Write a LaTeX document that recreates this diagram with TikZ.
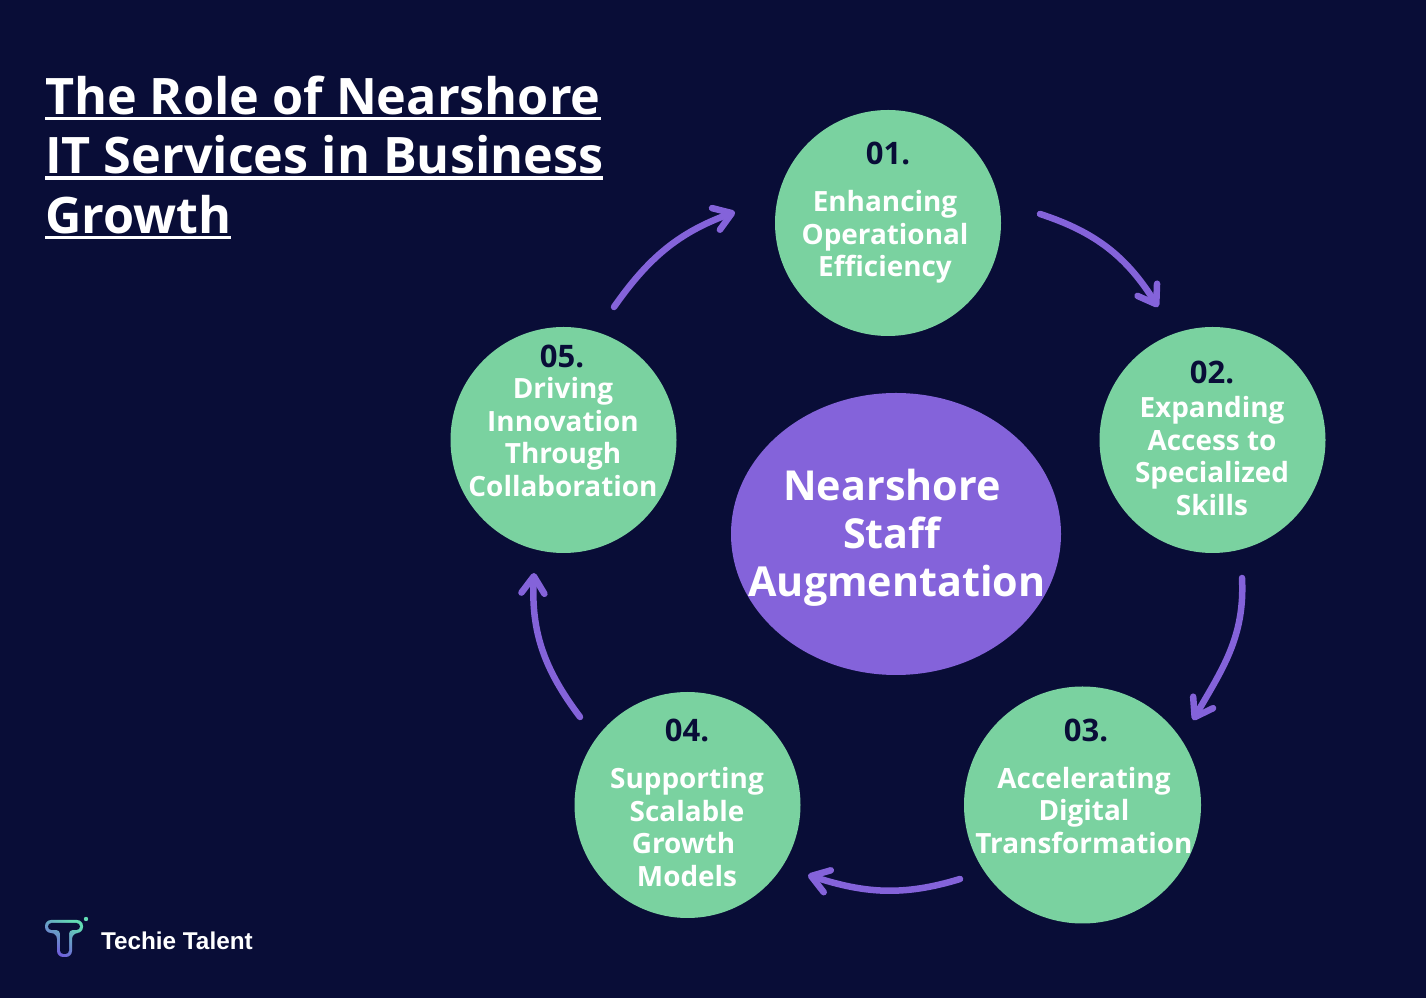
\documentclass[tikz,border=0pt]{standalone}
\usepackage{fontspec}
\setmainfont{Open Sans}
\newfontfamily\logofont{Liberation Sans}
\usetikzlibrary{arrows.meta,shapes.geometric}
\definecolor{navy}{HTML}{090D37}
\definecolor{mint}{HTML}{7AD2A0}
\definecolor{violet}{HTML}{8463DA}
\tikzset{
  every node/.style={outer sep=0pt},
  ball/.style={circle,fill=mint,minimum size=226pt,inner sep=0pt},
  numlabel/.style={text=navy,font=\fontsize{31}{36}\selectfont\bfseries},
  ballabel/.style={text=white,align=center,font=\fontsize{27.9}{32.6}\selectfont\bfseries}
}
\newlength\ullen
\newcommand{\ultext}[1]{\settowidth\ullen{#1}\rlap{\rule[-6pt]{\ullen}{3.5pt}}#1}
\begin{document}
\begin{tikzpicture}[x=1pt,y=1pt,->,>={Straight Barb[round,length=17pt,width=23pt]},line width=6.5pt,line cap=round]
    \path[use as bounding box,fill=navy] (0,0) rectangle (1426,998);

    % title
    \node[text=white,align=left,anchor=north west,inner sep=0pt,font=\fontsize{50.3}{59.3}\selectfont\bfseries] (title) at (45,922)
        {\ultext{The Role of Nearshore}\\\ultext{IT Services in Business}\\\ultext{Growth}};

    % circles
    \node[ball] (c1) at (888,775) {};
    \node[ball] (c2) at (1212.5,558) {};
    \node[ball,minimum size=237pt] (c3) at (1082.5,193) {};
    \node[ball] (c4) at (687.5,193) {};
    \node[ball] (c5) at (563.5,558) {};
    \node[ellipse,fill=violet,minimum width=330pt,minimum height=282pt,inner sep=0pt] (hub) at (896,464) {};
    \node[text=white,align=center,font=\fontsize{41.3}{48}\selectfont\bfseries] (hubtext) at (892,460) {Nearshore\\Staff\\\hspace*{10pt}Augmentation};

    % labels
    \node[numlabel] (n1) at (888,845) {01.};
    \node[ballabel] (t1) at (885,761) {Enhancing\\Operational\\Efficiency};
    \node[numlabel] (n2) at (1212,626) {02.};
    \node[ballabel] (t2) at (1212,542) {Expanding\\Access to\\Specialized\\Skills};
    \node[numlabel] (n3) at (1086,268) {03.};
    \node[ballabel] (t3) at (1084,187.5) {Accelerating\\Digital\\Transformation};
    \node[numlabel] (n4) at (687,268) {04.};
    \node[ballabel] (t4) at (687,171) {Supporting\\Scalable\\\mbox{Growth\hspace{7pt}}\\Models};
    \node[numlabel] (n5) at (562,642) {05.};
    \node[ballabel] (t5) at (563,561) {Driving\\Innovation\\Through\\Collaboration};

    % arrow ends
    \coordinate (s1) at (1040,784);
    \coordinate (e1) at (1158,691);
    \coordinate (s2) at (1242,420);
    \coordinate (e2) at (1193,278);
    \coordinate (s3) at (960,119);
    \coordinate (e3) at (808,123);
    \coordinate (s4) at (580,281);
    \coordinate (e4) at (534,425);
    \coordinate (s5) at (614,691);
    \coordinate (e5) at (735,786);

    \path[violet]
    (s1) edge [out=-18,in=122] (e1)
    (s2) edge [out=-87,in=60] (e2)
    (s3) edge [out=197,in=-18] (e3)
    (s4) edge [out=127,in=-93] (e4)
    (s5) edge [out=55,in=200] (e5)
    ;

    % logo
    \shade[draw=none,top color=mint!80!cyan,middle color=blue!40!cyan!70!navy,bottom color=violet!85!blue,shading angle=-35,rounded corners=6pt]
        (45,78) -- (83,78) -- (83,65) -- (72,65) -- (72,41) -- (57,41) -- (57,65) -- (45,65) -- cycle;
    \fill[navy,draw=none,rounded corners=3.5pt]
        (48,75) -- (80,75) -- (80,68) -- (69,68) -- (69,44) -- (60,44) -- (60,68) -- (48,68) -- cycle;
    \fill[mint!80!cyan,draw=none] (86,79) circle (2.2);
    \node[text=white,anchor=west,inner sep=0pt,font=\logofont\fontsize{24.3}{28}\selectfont\bfseries] (logo) at (101,57) {Techie Talent};
\end{tikzpicture}
\end{document}
